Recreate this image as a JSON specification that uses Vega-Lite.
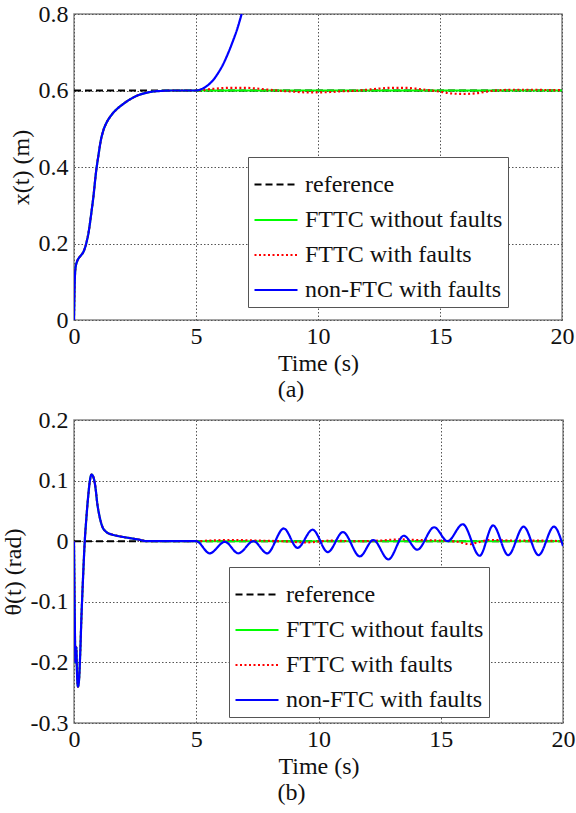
{
  "$schema": "https://vega.github.io/schema/vega-lite/v6.json",
  "background": "white",
  "padding": {"left": 0, "top": 1, "right": 0, "bottom": 5},
  "columns": 1,
  "spacing": 4,
  "config": {
    "font": "Times New Roman, Liberation Serif, serif",
    "view": {"stroke": "#888888", "strokeWidth": 1.5},
    "axis": {
      "labelFont": "Times New Roman, Liberation Serif, serif", "labelFontSize": 24, "labelColor": "#111111",
      "titleFont": "Times New Roman, Liberation Serif, serif", "titleFontSize": 24, "titleFontWeight": "normal", "titleColor": "#111111",
      "domain": false, "ticks": false, "labelFlush": false,
      "gridColor": "#555555", "gridDash": [1.5, 2], "gridWidth": 1, "gridOpacity": 1
    },
    "legend": {
      "labelFont": "Times New Roman, Liberation Serif, serif", "labelFontSize": 24, "labelColor": "#111111",
      "symbolType": "stroke", "symbolSize": 1849, "symbolStrokeWidth": 2.5,
      "strokeColor": "#555555", "fillColor": "white", "padding": 5, "rowPadding": 0,
      "labelOffset": 6, "cornerRadius": 0, "labelLimit": 600
    },
    "title": {"font": "Times New Roman, Liberation Serif, serif", "fontSize": 24, "fontWeight": "normal", "color": "#111111", "offset": 3}
  },
  "resolve": {
    "scale": {"color": "independent", "strokeDash": "independent", "strokeWidth": "independent"},
    "legend": {"color": "independent"}
  },
  "datasets": {
    "xa": [
      {"t": 0, "v": 0.6, "s": "reference"}, {"t": 20, "v": 0.6, "s": "reference"},
      {"t": 0, "v": 0, "s": "FTTC without faults"}, {"t": 0.03, "v": 0.1, "s": "FTTC without faults"}, {"t": 0.06, "v": 0.135, "s": "FTTC without faults"}, {"t": 0.12, "v": 0.152, "s": "FTTC without faults"}, {"t": 0.2, "v": 0.162, "s": "FTTC without faults"}, {"t": 0.3, "v": 0.17, "s": "FTTC without faults"}, {"t": 0.4, "v": 0.18, "s": "FTTC without faults"}, {"t": 0.5, "v": 0.2, "s": "FTTC without faults"}, {"t": 0.6, "v": 0.23, "s": "FTTC without faults"}, {"t": 0.7, "v": 0.275, "s": "FTTC without faults"}, {"t": 0.8, "v": 0.325, "s": "FTTC without faults"}, {"t": 0.9, "v": 0.385, "s": "FTTC without faults"}, {"t": 1.0, "v": 0.43, "s": "FTTC without faults"}, {"t": 1.1, "v": 0.47, "s": "FTTC without faults"}, {"t": 1.2, "v": 0.495, "s": "FTTC without faults"}, {"t": 1.35, "v": 0.518, "s": "FTTC without faults"}, {"t": 1.5, "v": 0.533, "s": "FTTC without faults"}, {"t": 1.75, "v": 0.551, "s": "FTTC without faults"}, {"t": 2.0, "v": 0.564, "s": "FTTC without faults"}, {"t": 2.3, "v": 0.577, "s": "FTTC without faults"}, {"t": 2.6, "v": 0.587, "s": "FTTC without faults"}, {"t": 2.9, "v": 0.593, "s": "FTTC without faults"}, {"t": 3.2, "v": 0.597, "s": "FTTC without faults"}, {"t": 3.6, "v": 0.599, "s": "FTTC without faults"}, {"t": 4.0, "v": 0.6, "s": "FTTC without faults"}, {"t": 5.0, "v": 0.6, "s": "FTTC without faults"}, {"t": 10.0, "v": 0.6, "s": "FTTC without faults"}, {"t": 15.0, "v": 0.6, "s": "FTTC without faults"}, {"t": 20.0, "v": 0.6, "s": "FTTC without faults"},
      {"t": 0, "v": 0, "s": "FTTC with faults"}, {"t": 0.03, "v": 0.1, "s": "FTTC with faults"}, {"t": 0.06, "v": 0.135, "s": "FTTC with faults"}, {"t": 0.12, "v": 0.152, "s": "FTTC with faults"}, {"t": 0.2, "v": 0.162, "s": "FTTC with faults"}, {"t": 0.3, "v": 0.17, "s": "FTTC with faults"}, {"t": 0.4, "v": 0.18, "s": "FTTC with faults"}, {"t": 0.5, "v": 0.2, "s": "FTTC with faults"}, {"t": 0.6, "v": 0.23, "s": "FTTC with faults"}, {"t": 0.7, "v": 0.275, "s": "FTTC with faults"}, {"t": 0.8, "v": 0.325, "s": "FTTC with faults"}, {"t": 0.9, "v": 0.385, "s": "FTTC with faults"}, {"t": 1.0, "v": 0.43, "s": "FTTC with faults"}, {"t": 1.1, "v": 0.47, "s": "FTTC with faults"}, {"t": 1.2, "v": 0.495, "s": "FTTC with faults"}, {"t": 1.35, "v": 0.518, "s": "FTTC with faults"}, {"t": 1.5, "v": 0.533, "s": "FTTC with faults"}, {"t": 1.75, "v": 0.551, "s": "FTTC with faults"}, {"t": 2.0, "v": 0.564, "s": "FTTC with faults"}, {"t": 2.3, "v": 0.577, "s": "FTTC with faults"}, {"t": 2.6, "v": 0.587, "s": "FTTC with faults"}, {"t": 2.9, "v": 0.593, "s": "FTTC with faults"}, {"t": 3.2, "v": 0.597, "s": "FTTC with faults"}, {"t": 3.6, "v": 0.599, "s": "FTTC with faults"}, {"t": 4.0, "v": 0.6, "s": "FTTC with faults"}, {"t": 5.0, "v": 0.6, "s": "FTTC with faults"},
      {"t": 5.5, "v": 0.603, "s": "FTTC with faults"}, {"t": 6.0, "v": 0.606, "s": "FTTC with faults"}, {"t": 6.5, "v": 0.607, "s": "FTTC with faults"}, {"t": 7.0, "v": 0.607, "s": "FTTC with faults"}, {"t": 7.5, "v": 0.605, "s": "FTTC with faults"}, {"t": 8.0, "v": 0.602, "s": "FTTC with faults"}, {"t": 8.5, "v": 0.599, "s": "FTTC with faults"}, {"t": 9.0, "v": 0.597, "s": "FTTC with faults"}, {"t": 9.5, "v": 0.595, "s": "FTTC with faults"}, {"t": 10.0, "v": 0.595, "s": "FTTC with faults"}, {"t": 10.5, "v": 0.596, "s": "FTTC with faults"}, {"t": 11.0, "v": 0.598, "s": "FTTC with faults"}, {"t": 11.5, "v": 0.599, "s": "FTTC with faults"}, {"t": 12.0, "v": 0.602, "s": "FTTC with faults"}, {"t": 12.5, "v": 0.605, "s": "FTTC with faults"}, {"t": 13.0, "v": 0.607, "s": "FTTC with faults"}, {"t": 13.5, "v": 0.607, "s": "FTTC with faults"}, {"t": 14.0, "v": 0.605, "s": "FTTC with faults"}, {"t": 14.5, "v": 0.601, "s": "FTTC with faults"}, {"t": 15.0, "v": 0.597, "s": "FTTC with faults"}, {"t": 15.5, "v": 0.592, "s": "FTTC with faults"}, {"t": 16.0, "v": 0.591, "s": "FTTC with faults"}, {"t": 16.5, "v": 0.593, "s": "FTTC with faults"}, {"t": 17.0, "v": 0.598, "s": "FTTC with faults"}, {"t": 17.5, "v": 0.601, "s": "FTTC with faults"}, {"t": 18.0, "v": 0.602, "s": "FTTC with faults"}, {"t": 18.5, "v": 0.602, "s": "FTTC with faults"}, {"t": 19.0, "v": 0.602, "s": "FTTC with faults"}, {"t": 19.5, "v": 0.601, "s": "FTTC with faults"}, {"t": 20.0, "v": 0.601, "s": "FTTC with faults"},
      {"t": 0, "v": 0, "s": "non-FTC with faults"}, {"t": 0.03, "v": 0.1, "s": "non-FTC with faults"}, {"t": 0.06, "v": 0.135, "s": "non-FTC with faults"}, {"t": 0.12, "v": 0.152, "s": "non-FTC with faults"}, {"t": 0.2, "v": 0.162, "s": "non-FTC with faults"}, {"t": 0.3, "v": 0.17, "s": "non-FTC with faults"}, {"t": 0.4, "v": 0.18, "s": "non-FTC with faults"}, {"t": 0.5, "v": 0.2, "s": "non-FTC with faults"}, {"t": 0.6, "v": 0.23, "s": "non-FTC with faults"}, {"t": 0.7, "v": 0.275, "s": "non-FTC with faults"}, {"t": 0.8, "v": 0.325, "s": "non-FTC with faults"}, {"t": 0.9, "v": 0.385, "s": "non-FTC with faults"}, {"t": 1.0, "v": 0.43, "s": "non-FTC with faults"}, {"t": 1.1, "v": 0.47, "s": "non-FTC with faults"}, {"t": 1.2, "v": 0.495, "s": "non-FTC with faults"}, {"t": 1.35, "v": 0.518, "s": "non-FTC with faults"}, {"t": 1.5, "v": 0.533, "s": "non-FTC with faults"}, {"t": 1.75, "v": 0.551, "s": "non-FTC with faults"}, {"t": 2.0, "v": 0.564, "s": "non-FTC with faults"}, {"t": 2.3, "v": 0.577, "s": "non-FTC with faults"}, {"t": 2.6, "v": 0.587, "s": "non-FTC with faults"}, {"t": 2.9, "v": 0.593, "s": "non-FTC with faults"}, {"t": 3.2, "v": 0.597, "s": "non-FTC with faults"}, {"t": 3.6, "v": 0.599, "s": "non-FTC with faults"}, {"t": 4.0, "v": 0.6, "s": "non-FTC with faults"}, {"t": 5.0, "v": 0.6, "s": "non-FTC with faults"},
      {"t": 5.2, "v": 0.603, "s": "non-FTC with faults"}, {"t": 5.45, "v": 0.612, "s": "non-FTC with faults"}, {"t": 5.7, "v": 0.627, "s": "non-FTC with faults"}, {"t": 5.9, "v": 0.645, "s": "non-FTC with faults"}, {"t": 6.1, "v": 0.667, "s": "non-FTC with faults"}, {"t": 6.3, "v": 0.695, "s": "non-FTC with faults"}, {"t": 6.5, "v": 0.727, "s": "non-FTC with faults"}, {"t": 6.7, "v": 0.763, "s": "non-FTC with faults"}, {"t": 6.87, "v": 0.8, "s": "non-FTC with faults"}
    ],
    "th": [
      {"t": 0, "v": 0, "s": "reference"}, {"t": 20, "v": 0, "s": "reference"},
      {"t": 0, "v": 0, "s": "FTTC without faults"}, {"t": 0.03, "v": -0.12, "s": "FTTC without faults"}, {"t": 0.06, "v": -0.2, "s": "FTTC without faults"}, {"t": 0.09, "v": -0.175, "s": "FTTC without faults"}, {"t": 0.13, "v": -0.225, "s": "FTTC without faults"}, {"t": 0.16, "v": -0.24, "s": "FTTC without faults"}, {"t": 0.2, "v": -0.232, "s": "FTTC without faults"}, {"t": 0.25, "v": -0.19, "s": "FTTC without faults"}, {"t": 0.3, "v": -0.13, "s": "FTTC without faults"}, {"t": 0.37, "v": -0.06, "s": "FTTC without faults"}, {"t": 0.44, "v": 0, "s": "FTTC without faults"}, {"t": 0.5, "v": 0.035, "s": "FTTC without faults"}, {"t": 0.58, "v": 0.074, "s": "FTTC without faults"}, {"t": 0.65, "v": 0.1, "s": "FTTC without faults"}, {"t": 0.72, "v": 0.11, "s": "FTTC without faults"}, {"t": 0.8, "v": 0.105, "s": "FTTC without faults"}, {"t": 0.88, "v": 0.088, "s": "FTTC without faults"}, {"t": 0.95, "v": 0.063, "s": "FTTC without faults"}, {"t": 1.05, "v": 0.04, "s": "FTTC without faults"}, {"t": 1.15, "v": 0.025, "s": "FTTC without faults"}, {"t": 1.33, "v": 0.015, "s": "FTTC without faults"}, {"t": 1.55, "v": 0.011, "s": "FTTC without faults"}, {"t": 1.75, "v": 0.009, "s": "FTTC without faults"}, {"t": 2.0, "v": 0.007, "s": "FTTC without faults"}, {"t": 2.3, "v": 0.005, "s": "FTTC without faults"}, {"t": 2.6, "v": 0.003, "s": "FTTC without faults"}, {"t": 3.0, "v": 0, "s": "FTTC without faults"}, {"t": 5.0, "v": 0, "s": "FTTC without faults"}, {"t": 10.0, "v": 0, "s": "FTTC without faults"}, {"t": 15.0, "v": 0, "s": "FTTC without faults"}, {"t": 20.0, "v": 0, "s": "FTTC without faults"},
      {"t": 0, "v": 0, "s": "FTTC with faults"}, {"t": 0.03, "v": -0.12, "s": "FTTC with faults"}, {"t": 0.06, "v": -0.2, "s": "FTTC with faults"}, {"t": 0.09, "v": -0.175, "s": "FTTC with faults"}, {"t": 0.13, "v": -0.225, "s": "FTTC with faults"}, {"t": 0.16, "v": -0.24, "s": "FTTC with faults"}, {"t": 0.2, "v": -0.232, "s": "FTTC with faults"}, {"t": 0.25, "v": -0.19, "s": "FTTC with faults"}, {"t": 0.3, "v": -0.13, "s": "FTTC with faults"}, {"t": 0.37, "v": -0.06, "s": "FTTC with faults"}, {"t": 0.44, "v": 0, "s": "FTTC with faults"}, {"t": 0.5, "v": 0.035, "s": "FTTC with faults"}, {"t": 0.58, "v": 0.074, "s": "FTTC with faults"}, {"t": 0.65, "v": 0.1, "s": "FTTC with faults"}, {"t": 0.72, "v": 0.11, "s": "FTTC with faults"}, {"t": 0.8, "v": 0.105, "s": "FTTC with faults"}, {"t": 0.88, "v": 0.088, "s": "FTTC with faults"}, {"t": 0.95, "v": 0.063, "s": "FTTC with faults"}, {"t": 1.05, "v": 0.04, "s": "FTTC with faults"}, {"t": 1.15, "v": 0.025, "s": "FTTC with faults"}, {"t": 1.33, "v": 0.015, "s": "FTTC with faults"}, {"t": 1.55, "v": 0.011, "s": "FTTC with faults"}, {"t": 1.75, "v": 0.009, "s": "FTTC with faults"}, {"t": 2.0, "v": 0.007, "s": "FTTC with faults"}, {"t": 2.3, "v": 0.005, "s": "FTTC with faults"}, {"t": 2.6, "v": 0.003, "s": "FTTC with faults"}, {"t": 3.0, "v": 0, "s": "FTTC with faults"}, {"t": 5.0, "v": 0, "s": "FTTC with faults"},
      {"t": 5.5, "v": 0.001, "s": "FTTC with faults"}, {"t": 6.5, "v": 0.002, "s": "FTTC with faults"}, {"t": 7.5, "v": 0.001, "s": "FTTC with faults"}, {"t": 8.5, "v": 0.0, "s": "FTTC with faults"}, {"t": 9.5, "v": -0.002, "s": "FTTC with faults"}, {"t": 10.5, "v": 0.001, "s": "FTTC with faults"}, {"t": 11.5, "v": 0.0, "s": "FTTC with faults"}, {"t": 12.5, "v": 0.001, "s": "FTTC with faults"}, {"t": 13.3, "v": 0.003, "s": "FTTC with faults"}, {"t": 14.0, "v": 0.002, "s": "FTTC with faults"}, {"t": 15.0, "v": 0.001, "s": "FTTC with faults"}, {"t": 15.7, "v": -0.001, "s": "FTTC with faults"}, {"t": 16.2, "v": -0.005, "s": "FTTC with faults"}, {"t": 16.5, "v": -0.002, "s": "FTTC with faults"}, {"t": 17.0, "v": 0.002, "s": "FTTC with faults"}, {"t": 18.0, "v": 0.001, "s": "FTTC with faults"}, {"t": 19.0, "v": 0.001, "s": "FTTC with faults"}, {"t": 20.0, "v": 0.0, "s": "FTTC with faults"},
      {"t": 0, "v": 0, "s": "non-FTC with faults"}, {"t": 0.03, "v": -0.12, "s": "non-FTC with faults"}, {"t": 0.06, "v": -0.2, "s": "non-FTC with faults"}, {"t": 0.09, "v": -0.175, "s": "non-FTC with faults"}, {"t": 0.13, "v": -0.225, "s": "non-FTC with faults"}, {"t": 0.16, "v": -0.24, "s": "non-FTC with faults"}, {"t": 0.2, "v": -0.232, "s": "non-FTC with faults"}, {"t": 0.25, "v": -0.19, "s": "non-FTC with faults"}, {"t": 0.3, "v": -0.13, "s": "non-FTC with faults"}, {"t": 0.37, "v": -0.06, "s": "non-FTC with faults"}, {"t": 0.44, "v": 0, "s": "non-FTC with faults"}, {"t": 0.5, "v": 0.035, "s": "non-FTC with faults"}, {"t": 0.58, "v": 0.074, "s": "non-FTC with faults"}, {"t": 0.65, "v": 0.1, "s": "non-FTC with faults"}, {"t": 0.72, "v": 0.11, "s": "non-FTC with faults"}, {"t": 0.8, "v": 0.105, "s": "non-FTC with faults"}, {"t": 0.88, "v": 0.088, "s": "non-FTC with faults"}, {"t": 0.95, "v": 0.063, "s": "non-FTC with faults"}, {"t": 1.05, "v": 0.04, "s": "non-FTC with faults"}, {"t": 1.15, "v": 0.025, "s": "non-FTC with faults"}, {"t": 1.33, "v": 0.015, "s": "non-FTC with faults"}, {"t": 1.55, "v": 0.011, "s": "non-FTC with faults"}, {"t": 1.75, "v": 0.009, "s": "non-FTC with faults"}, {"t": 2.0, "v": 0.007, "s": "non-FTC with faults"}, {"t": 2.3, "v": 0.005, "s": "non-FTC with faults"}, {"t": 2.6, "v": 0.003, "s": "non-FTC with faults"}, {"t": 3.0, "v": 0, "s": "non-FTC with faults"}, {"t": 5.0, "v": 0, "s": "non-FTC with faults"},
      {"t": 5.55, "v": -0.02, "s": "non-FTC with faults"}, {"t": 6.17, "v": -0.001, "s": "non-FTC with faults"}, {"t": 6.72, "v": -0.02, "s": "non-FTC with faults"}, {"t": 7.34, "v": 0.0, "s": "non-FTC with faults"}, {"t": 7.9, "v": -0.02, "s": "non-FTC with faults"}, {"t": 8.58, "v": 0.021, "s": "non-FTC with faults"}, {"t": 9.14, "v": -0.011, "s": "non-FTC with faults"}, {"t": 9.76, "v": 0.019, "s": "non-FTC with faults"}, {"t": 10.38, "v": -0.018, "s": "non-FTC with faults"}, {"t": 11.0, "v": 0.015, "s": "non-FTC with faults"}, {"t": 11.69, "v": -0.025, "s": "non-FTC with faults"}, {"t": 12.24, "v": 0.002, "s": "non-FTC with faults"}, {"t": 12.86, "v": -0.03, "s": "non-FTC with faults"}, {"t": 13.49, "v": 0.009, "s": "non-FTC with faults"}, {"t": 14.04, "v": -0.014, "s": "non-FTC with faults"}, {"t": 14.73, "v": 0.023, "s": "non-FTC with faults"}, {"t": 15.28, "v": 0.0, "s": "non-FTC with faults"}, {"t": 15.9, "v": 0.028, "s": "non-FTC with faults"}, {"t": 16.59, "v": -0.024, "s": "non-FTC with faults"}, {"t": 17.14, "v": 0.026, "s": "non-FTC with faults"}, {"t": 17.76, "v": -0.023, "s": "non-FTC with faults"}, {"t": 18.39, "v": 0.024, "s": "non-FTC with faults"}, {"t": 19.0, "v": -0.023, "s": "non-FTC with faults"}, {"t": 19.63, "v": 0.024, "s": "non-FTC with faults"}, {"t": 20.0, "v": -0.008, "s": "non-FTC with faults"}
    ]
  },
  "concat": [
    {
      "width": 488, "height": 306,
      "data": {"name": "xa"},
      "title": {"text": "(a)", "orient": "bottom", "dx": -27},
      "mark": {"type": "line", "interpolate": "monotone", "clip": true},
      "encoding": {
        "x": {"field": "t", "type": "quantitative", "scale": {"domain": [0, 20], "nice": false}, "axis": {"values": [0, 5, 10, 15, 20], "title": "Time (s)", "labelPadding": 4, "titlePadding": 3}},
        "y": {"field": "v", "type": "quantitative", "scale": {"domain": [0, 0.8], "nice": false, "zero": false}, "axis": {"values": [0, 0.2, 0.4, 0.6, 0.8], "format": "~g", "title": "x(t) (m)", "labelPadding": 6, "titlePadding": 5}},
        "color": {"field": "s", "type": "nominal", "scale": {"domain": ["reference", "FTTC without faults", "FTTC with faults", "non-FTC with faults"], "range": ["#000000", "#00ff00", "#ff0000", "#0000ff"]},
          "legend": {"title": null, "orient": "none", "legendX": 174, "legendY": 143,
            "encode": {"symbols": {"update": {"strokeDash": {"signal": "datum.value === 'reference' ? [7, 4] : datum.value === 'FTTC with faults' ? [2, 2.5] : [1, 0]"}}}}}},
        "strokeDash": {"field": "s", "type": "nominal", "scale": {"domain": ["reference", "FTTC without faults", "FTTC with faults", "non-FTC with faults"], "range": [[7, 4], [1, 0], [2, 2.5], [1, 0]]}, "legend": null},
        "strokeWidth": {"field": "s", "type": "nominal", "scale": {"domain": ["reference", "FTTC without faults", "FTTC with faults", "non-FTC with faults"], "range": [2, 2.2, 2.5, 2.5]}, "legend": null}
      }
    },
    {
      "width": 489, "height": 303,
      "data": {"name": "th"},
      "title": {"text": "(b)", "orient": "bottom", "dx": -27},
      "mark": {"type": "line", "interpolate": "monotone", "clip": true},
      "encoding": {
        "x": {"field": "t", "type": "quantitative", "scale": {"domain": [0, 20], "nice": false}, "axis": {"values": [0, 5, 10, 15, 20], "title": "Time (s)", "labelPadding": 4, "titlePadding": 3}},
        "y": {"field": "v", "type": "quantitative", "scale": {"domain": [-0.3, 0.2], "nice": false, "zero": false}, "axis": {"values": [-0.3, -0.2, -0.1, 0, 0.1, 0.2], "format": "~g", "labelExpr": "replace(datum.label, '\u2212', '-')", "title": "θ(t) (rad)", "labelPadding": 6, "titlePadding": 5}},
        "color": {"field": "s", "type": "nominal", "scale": {"domain": ["reference", "FTTC without faults", "FTTC with faults", "non-FTC with faults"], "range": ["#000000", "#00ff00", "#ff0000", "#0000ff"]},
          "legend": {"title": null, "orient": "none", "legendX": 155, "legendY": 147,
            "encode": {"symbols": {"update": {"strokeDash": {"signal": "datum.value === 'reference' ? [7, 4] : datum.value === 'FTTC with faults' ? [2, 2.5] : [1, 0]"}}}}}},
        "strokeDash": {"field": "s", "type": "nominal", "scale": {"domain": ["reference", "FTTC without faults", "FTTC with faults", "non-FTC with faults"], "range": [[7, 4], [1, 0], [2, 2.5], [1, 0]]}, "legend": null},
        "strokeWidth": {"field": "s", "type": "nominal", "scale": {"domain": ["reference", "FTTC without faults", "FTTC with faults", "non-FTC with faults"], "range": [2, 2.2, 2.5, 2.5]}, "legend": null}
      }
    }
  ]
}
